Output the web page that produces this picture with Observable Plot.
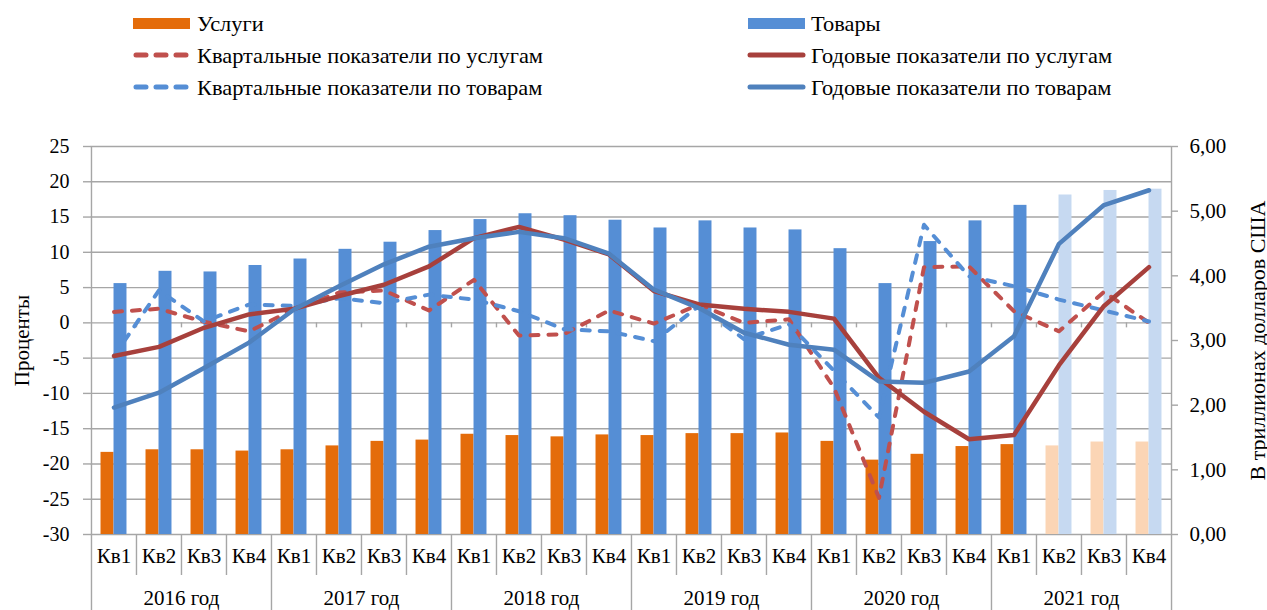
<!DOCTYPE html>
<html>
<head>
<meta charset="utf-8">
<script src="https://cdn.jsdelivr.net/npm/d3@7"></script>
<script src="https://cdn.jsdelivr.net/npm/@observablehq/plot@0.6"></script>
<style>
  html, body { margin: 0; padding: 0; background: #fff; overflow: hidden; }
  #legend text { font-family: "Liberation Serif", "Times New Roman", serif; font-size: 20px; fill: #000; }
</style>
</head>
<body>
<div id="wrap">
<svg id="legend" width="1267" height="115"></svg>
<div id="chart"></div>
</div>
<script>
// ---- data ----
const years = ["2016 год", "2017 год", "2018 год", "2019 год", "2020 год", "2021 год"];
const quarters = ["Кв1", "Кв2", "Кв3", "Кв4"];
// bars, trillions USD (right axis)
const servicesValue = [1.27, 1.31, 1.31, 1.29, 1.31, 1.37, 1.44, 1.46, 1.55, 1.53, 1.51, 1.54,
                       1.53, 1.56, 1.56, 1.57, 1.44, 1.15, 1.24, 1.36, 1.39, 1.37, 1.43, 1.43];
const goodsValue = [3.88, 4.07, 4.06, 4.16, 4.26, 4.41, 4.52, 4.70, 4.87, 4.96, 4.93, 4.86,
                    4.74, 4.85, 4.74, 4.71, 4.42, 3.88, 4.53, 4.85, 5.09, 5.25, 5.32, 5.34];
const projected = [false, false, false, false, false, false, false, false, false, false, false, false,
                   false, false, false, false, false, false, false, false, false, true, true, true];
// lines, percent (left axis)
const servicesQuarterly = [1.55, 2.0, 0.15, -1.2, 1.9, 4.3, 4.6, 1.75, 6.1, -1.8, -1.6, 1.75,
                           -0.1, 2.6, 0.0, 0.5, -9.2, -24.8, 7.9, 8.0, 1.65, -1.2, 4.4, 0.0];
const servicesAnnual = [-4.7, -3.4, -0.7, 1.2, 2.0, 3.8, 5.4, 8.0, 12.0, 13.6, 11.8, 9.7,
                        4.5, 2.6, 2.0, 1.56, 0.6, -7.8, -12.6, -16.5, -15.9, -6.0, 2.4, 7.9];
const goodsQuarterly = [-4.7, 4.6, 0.2, 2.6, 2.4, 3.5, 2.8, 4.0, 3.3, 1.65, -0.9, -1.2,
                        -2.6, 2.4, -2.3, -0.2, -6.8, -13.4, 13.9, 6.6, 5.2, 3.3, 1.75, 0.2];
const goodsAnnual = [-12.0, -9.9, -6.4, -2.8, 1.9, 5.2, 8.3, 10.8, 12.0, 12.9, 12.0, 9.8,
                     4.7, 2.1, -1.4, -3.1, -3.8, -8.3, -8.5, -6.9, -1.9, 11.2, 16.7, 18.8];
const leftTicks = [-30, -25, -20, -15, -10, -5, 0, 5, 10, 15, 20, 25];
const rightTicks = [0, 1, 2, 3, 4, 5, 6];
const leftLabel = "Проценты";
const rightLabel = "В триллионах долларов США";
const legendItems = [
  {label: "Услуги", kind: "rect", color: "#E46C0A", col: 0, row: 0},
  {label: "Товары", kind: "rect", color: "#558ED5", col: 1, row: 0},
  {label: "Квартальные показатели по услугам", kind: "dash", color: "#C0504D", col: 0, row: 1},
  {label: "Годовые показатели по услугам", kind: "solid", color: "#A7403C", col: 1, row: 1},
  {label: "Квартальные показатели по товарам", kind: "dash", color: "#558ED5", col: 0, row: 2},
  {label: "Годовые показатели по товарам", kind: "solid", color: "#4F81BD", col: 1, row: 2}
];

// ---- colours / layout ----
const C = {
  orange: "#E46C0A", orangeLight: "#FBD5B5",
  blue: "#558ED5", blueLight: "#C6D9F1",
  redDash: "#C0504D", redSolid: "#A7403C",
  blueDash: "#558ED5", blueSolid: "#4F81BD",
  grid: "#A6A6A6"
};
const W = 1267, H = 495, mT = 27, mB = 80, mL = 90, mR = 96;
const font = "'Liberation Serif', 'Times New Roman', serif";
const fs = 21;

const leftMin = leftTicks[0], leftMax = leftTicks[leftTicks.length - 1];
const rightMax = rightTicks[rightTicks.length - 1];
const toLeft = v => leftMin + v * (leftMax - leftMin) / rightMax;

const keys = years.flatMap(y => quarters.map(q => y + "|" + q));
const rows = keys.map((k, i) => ({
  key: k, year: k.split("|")[0], quarter: k.split("|")[1],
  services: servicesValue[i], goods: goodsValue[i], projected: projected[i],
  sq: servicesQuarterly[i], sa: servicesAnnual[i], gq: goodsQuarterly[i], ga: goodsAnnual[i]
}));
const plotW = W - mL - mR;
const bw = plotW / keys.length;
const plotH = H - mT - mB;
const barW = 13;

// ---- legend ----
(function drawLegend() {
  const svg = d3.select("#legend");
  const colX = [133, 748], swW = 57, textX = [197, 811];
  const baseY = [31, 63, 95];
  for (const it of legendItems) {
    const x0 = colX[it.col], by = baseY[it.row], cy = by - 7;
    if (it.kind === "rect") {
      svg.append("rect").attr("x", x0).attr("y", cy - 6).attr("width", swW).attr("height", 11).attr("fill", it.color);
    } else if (it.kind === "dash") {
      svg.append("line").attr("x1", x0 + 3).attr("x2", x0 + swW - 3).attr("y1", cy - 1).attr("y2", cy - 1)
        .attr("stroke", it.color).attr("stroke-width", 5).attr("stroke-linecap", "round")
        .attr("stroke-dasharray", "10 10");
    } else {
      svg.append("line").attr("x1", x0 + 2).attr("x2", x0 + swW - 2).attr("y1", cy - 1).attr("y2", cy - 1)
        .attr("stroke", it.color).attr("stroke-width", 5).attr("stroke-linecap", "round");
    }
    svg.append("text").attr("transform", `translate(${textX[it.col]},${by}) scale(1.12,1)`).text(it.label);
  }
})();

// ---- chart ----
const lineOpts = {x: "key", strokeWidth: 4.5, strokeLinejoin: "round", strokeLinecap: "round"};
const dashOpts = {...lineOpts, strokeWidth: 4, strokeDasharray: "8 10"};
const ruleStyle = {stroke: C.grid, strokeWidth: 1.4};

const chart = Plot.plot({
  width: W, height: H,
  marginTop: mT, marginBottom: mB, marginLeft: mL, marginRight: mR,
  x: {type: "band", domain: keys, padding: 0, axis: null},
  y: {domain: [leftMin, leftMax], axis: null},
  style: {fontFamily: font, fontSize: fs + "px", background: "#fff", color: "#000", overflow: "visible"},
  marks: [
    Plot.ruleY(leftTicks, {...ruleStyle}),
    // small ticks on the zero line at category boundaries
    Plot.ruleX(keys.slice(1), {x: d => d, y1: () => 0, y2: () => 0, dx: -bw / 2, insetBottom: -5, ...ruleStyle}),
    // bars
    Plot.barY(rows, {x: "key", y1: () => leftMin, y2: d => toLeft(d.services),
      fill: d => d.projected ? C.orangeLight : C.orange, insetLeft: bw / 2 - barW, insetRight: bw / 2}),
    Plot.barY(rows, {x: "key", y1: () => leftMin, y2: d => toLeft(d.goods),
      fill: d => d.projected ? C.blueLight : C.blue, insetLeft: bw / 2, insetRight: bw / 2 - barW}),
    // lines
    Plot.line(rows, {...dashOpts, y: "sq", stroke: C.redDash}),
    Plot.line(rows, {...dashOpts, y: "gq", stroke: C.blueDash}),
    Plot.line(rows, {...lineOpts, y: "sa", stroke: C.redSolid}),
    Plot.line(rows, {...lineOpts, y: "ga", stroke: C.blueSolid}),
    // axis lines (extend to bottom of the category table)
    Plot.ruleX([keys[0]], {x: d => d, dx: -bw / 2, insetBottom: -mB, ...ruleStyle}),
    Plot.ruleX([keys[keys.length - 1]], {x: d => d, dx: bw / 2, insetBottom: -mB, ...ruleStyle}),
    // category table separators
    Plot.ruleX(rows.filter(d => d.quarter !== quarters[0]), {x: "key", dx: -bw / 2, insetTop: plotH, insetBottom: -41, ...ruleStyle}),
    Plot.ruleX(rows.filter((d, i) => d.quarter === quarters[0] && i > 0), {x: "key", dx: -bw / 2, insetTop: plotH, insetBottom: -mB, ...ruleStyle}),
    // left axis ticks + labels
    Plot.ruleY(leftTicks, {insetLeft: -7, insetRight: plotW, ...ruleStyle}),
    Plot.text(leftTicks, {y: d => d, text: d => String(d), frameAnchor: "left", textAnchor: "end", dx: -21, fontSize: 20}),
    // right axis ticks + labels (trillions)
    Plot.ruleY(rightTicks, {y: toLeft, insetLeft: plotW, insetRight: -7, ...ruleStyle}),
    Plot.text(rightTicks, {y: toLeft, text: d => d.toFixed(2).replace(".", ","), frameAnchor: "right", textAnchor: "start", dx: 18, fontSize: fs}),
    // axis titles
    Plot.text([leftLabel], {text: d => d, frameAnchor: "left", textAnchor: "middle", rotate: -90, dx: -68, fontSize: fs}),
    Plot.text([rightLabel], {text: d => d, frameAnchor: "right", textAnchor: "middle", rotate: -90, dx: 86, fontSize: 22}),
    // category labels
    Plot.text(rows, {x: "key", text: "quarter", frameAnchor: "bottom", dy: 28, fontSize: fs}),
    Plot.text(years, {x: d => d + "|" + quarters[2], text: d => d, dx: -bw / 2, frameAnchor: "bottom", dy: 70, fontSize: fs})
  ]
});
document.getElementById("chart").appendChild(chart);
</script>
</body>
</html>
